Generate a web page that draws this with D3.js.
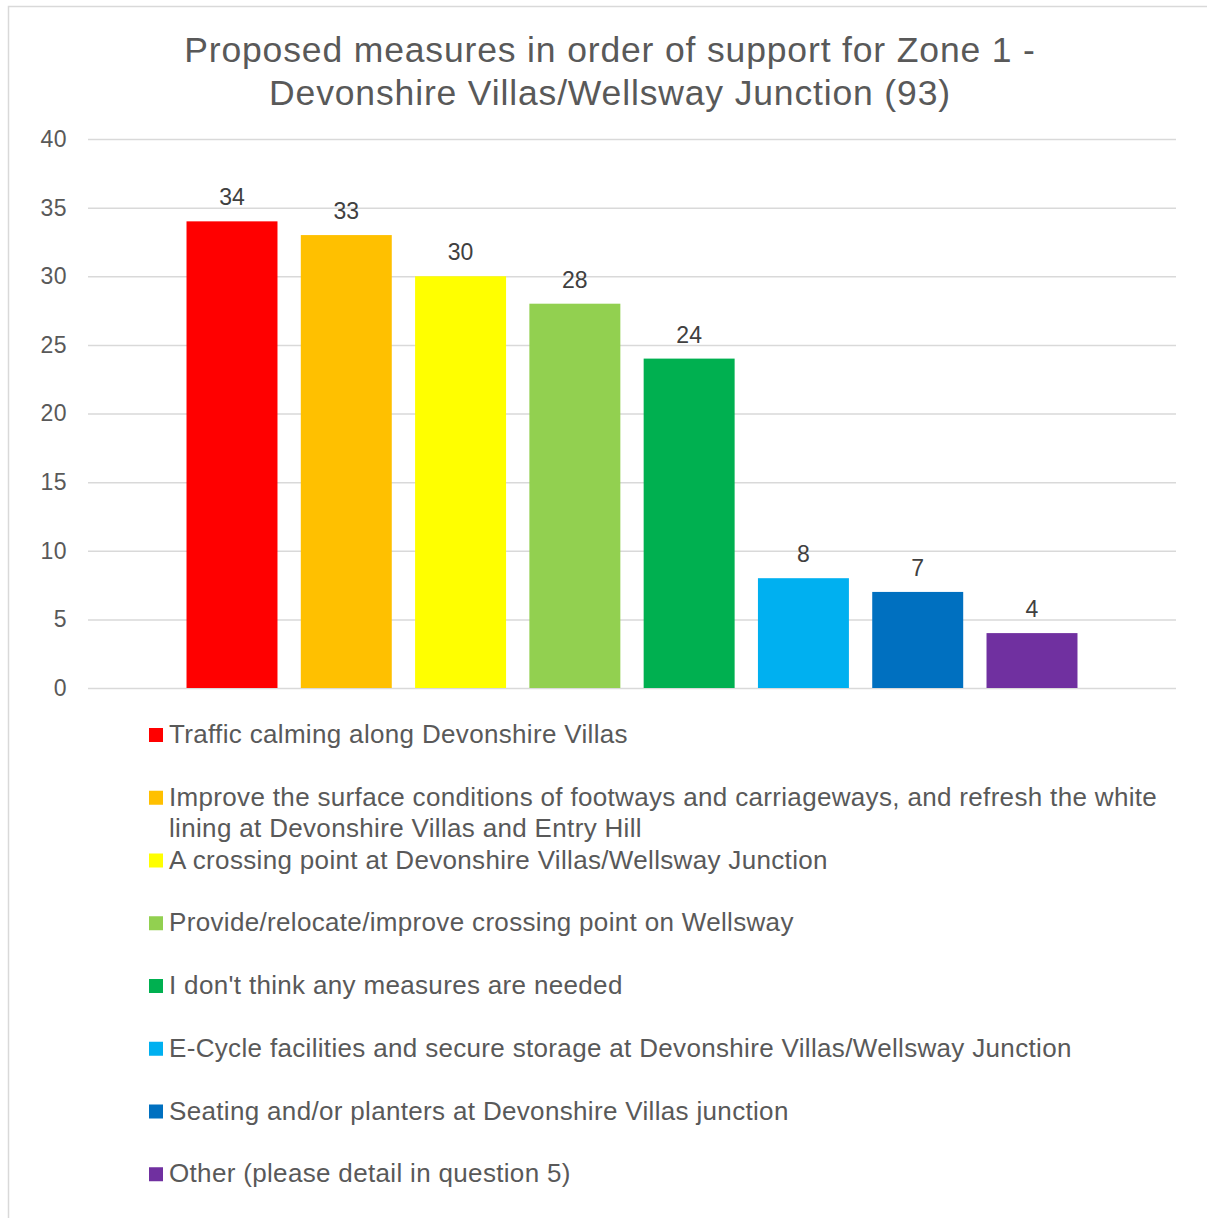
<!DOCTYPE html>
<html>
<head>
<meta charset="utf-8">
<script src="https://cdn.jsdelivr.net/npm/d3@7"></script>
<style>
    body { margin: 0; background: #fff; }
    svg { display: block; font-family: Arial, "Liberation Sans", sans-serif; }
</style>
</head>
<body>
<div id="chart"></div>
<script>
// Measures, in order of support
const measures = [
    "Traffic calming along Devonshire Villas",
    "Improve the surface conditions of footways and carriageways, and refresh the white lining at Devonshire Villas and Entry Hill",
    "A crossing point at Devonshire Villas/Wellsway Junction",
    "Provide/relocate/improve crossing point on Wellsway",
    "I don't think any measures are needed",
    "E-Cycle facilities and secure storage at Devonshire Villas/Wellsway Junction",
    "Seating and/or planters at Devonshire Villas junction",
    "Other (please detail in question 5)"
];
const votes = [34, 33, 30, 28, 24, 8, 7, 4];
const barColors = ["#FF0000", "#FFC000", "#FFFF00", "#92D050", "#00B050", "#00B0F0", "#0070C0", "#7030A0"];
const yTicks = [0, 5, 10, 15, 20, 25, 30, 35, 40];
const titleLines = ["Proposed measures in order of support for Zone 1 -", "Devonshire Villas/Wellsway Junction (93)"];

const W = 1207, H = 1218;
const plot = { left: 88, right: 1176, top: 139, bottom: 688 };

const svg = d3.select("#chart")
    .append("svg")
    .attr("width", W)
    .attr("height", H);

// chart border
svg.append("rect")
    .attr("x", 8.5).attr("y", 6.5)
    .attr("width", W + 10).attr("height", H + 10)
    .attr("fill", "none")
    .attr("stroke", "#d9d9d9")
    .attr("stroke-width", 1.5);

// Title
svg.append("text")
    .attr("text-anchor", "middle")
    .attr("font-size", 35.5)
    .attr("letter-spacing", 0.85)
    .attr("fill", "#595959")
    .selectAll("tspan")
    .data(titleLines)
    .enter()
    .append("tspan")
    .attr("x", 610)
    .attr("y", (d, i) => 62 + i * 43)
    .text(d => d);

const x = d3.scaleBand()
    .domain(measures)
    .range([plot.left, plot.right])
    .paddingInner(0.204)
    .paddingOuter(0.862);

const y = d3.scaleLinear()
    .domain([0, 40])
    .range([plot.bottom, plot.top]);

// gridlines + y labels
const yAxis = svg.append("g")
    .attr("transform", `translate(${plot.left},0)`)
    .call(d3.axisLeft(y).tickValues(yTicks).tickSize(-(plot.right - plot.left)).tickPadding(21));
yAxis.select(".domain").remove();
yAxis.selectAll(".tick line").attr("stroke", "#d9d9d9").attr("stroke-width", 1.5);
yAxis.selectAll(".tick text")
    .attr("font-family", "Arial, 'Liberation Sans', sans-serif")
    .attr("font-size", 23)
    .attr("letter-spacing", 0.4)
    .attr("fill", "#595959");

// bars
svg.append("g")
    .selectAll("rect")
    .data(measures)
    .enter()
    .append("rect")
    .attr("x", d => x(d))
    .attr("y", (d, i) => y(votes[i]))
    .attr("width", x.bandwidth())
    .attr("height", (d, i) => y(0) - y(votes[i]))
    .attr("fill", (d, i) => barColors[i]);

// data labels
svg.append("g")
    .selectAll("text")
    .data(measures)
    .enter()
    .append("text")
    .attr("x", d => x(d) + x.bandwidth() / 2)
    .attr("y", (d, i) => y(votes[i]) - 16)
    .attr("text-anchor", "middle")
    .attr("font-size", 23)
    .attr("fill", "#404040")
    .text((d, i) => votes[i]);

// legend, one slot per measure; long labels wrap inside their slot
const legend = svg.append("g");
const slot = 62.75, firstBase = 743, maxW = 1005;

measures.forEach((m, i) => {
    const base = firstBase + i * slot;
    legend.append("rect")
        .attr("x", 149).attr("y", base - 15)
        .attr("width", 14).attr("height", 14)
        .attr("fill", barColors[i]);

    const t = legend.append("text")
        .attr("font-size", 26)
        .attr("letter-spacing", 0.33)
        .attr("fill", "#595959");

    // simple word wrap
    const words = m.split(" ");
    let line = [], lineNo = 0;
    let tspan = t.append("tspan").attr("x", 169).attr("y", base);
    words.forEach(w => {
        line.push(w);
        tspan.text(line.join(" "));
        if (tspan.node().getComputedTextLength() > maxW && line.length > 1) {
            line.pop();
            tspan.text(line.join(" "));
            line = [w];
            lineNo++;
            tspan = t.append("tspan").attr("x", 169).attr("y", base + lineNo * 31).text(w);
        }
    });
});
</script>
</body>
</html>
